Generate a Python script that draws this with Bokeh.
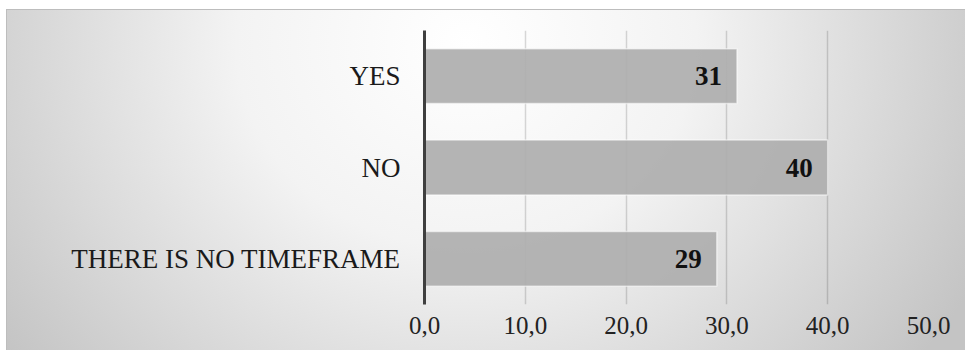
from bokeh.plotting import figure
from bokeh.models import ColumnDataSource, FactorRange, Range1d, FixedTicker
from bokeh.core.properties import value
from bokeh.embed import file_html
from bokeh.resources import INLINE

# Survey answers and their shares (percent)
categories = ["YES", "NO", "THERE IS NO TIMEFRAME"]
values = [31, 40, 29]

# Value axis ticks (comma decimal separator)
tick_values = [0, 10, 20, 30, 40, 50]
tick_labels = ["0,0", "10,0", "20,0", "30,0", "40,0", "50,0"]

FONT = "Liberation Serif"

source = ColumnDataSource(dict(cat=categories, val=values, lbl=[str(v) for v in values]))

p = figure(
    width=959, height=341,
    y_range=FactorRange(factors=categories[::-1], range_padding=0),
    x_range=Range1d(0, 50),
    output_backend="svg", toolbar_location=None,
    min_border_left=418, min_border_right=37, min_border_top=21, min_border_bottom=46,
)
p.margin = (9, 0, 0, 6)
p.background_fill_alpha = 0
p.border_fill_alpha = 0
p.outline_line_color = None
p.styles = {
    "background": "radial-gradient(ellipse 60% 150% at 48% 10%, #ffffff 0%, #f3f3f3 40%, #c4c4c4 100%)",
    "box-shadow": "inset 1px 1px 0 #bdbdbd",
}

# Bars
p.hbar(y="cat", left=0, right="val", height=0.6, source=source,
       fill_color="#aeaeae", fill_alpha=0.93,
       line_color="#ffffff", line_alpha=0.55, line_width=1.5)

# Value labels just inside the bar ends
p.text(x="val", y="cat", text="lbl", source=source,
       x_offset=-15, text_align="right", text_baseline="middle",
       text_font=value(FONT), text_font_style="bold", text_font_size="27px",
       text_color="#111111")

ticker = FixedTicker(ticks=tick_values)

# Grid
p.ygrid.grid_line_color = None
p.xgrid.ticker = ticker
p.xgrid.grid_line_color = "black"
p.xgrid.grid_line_alpha = 0.15
p.xgrid.grid_line_width = 1.5

# Value axis
p.xaxis.ticker = ticker
p.xaxis.major_label_overrides = {v: s for v, s in zip(tick_values, tick_labels)}
p.xaxis.axis_line_color = None
p.xaxis.major_tick_line_color = None
p.xaxis.minor_tick_line_color = None
p.xaxis.major_label_standoff = 6
p.xaxis.major_label_text_font = FONT
p.xaxis.major_label_text_font_size = "25px"
p.xaxis.major_label_text_color = "#222222"

# Category axis
p.yaxis.axis_line_width = 3
p.yaxis.axis_line_color = "#3f3f3f"
p.yaxis.major_tick_line_color = None
p.yaxis.minor_tick_line_color = None
p.yaxis.major_label_standoff = 18
p.yaxis.major_label_text_font = FONT
p.yaxis.major_label_text_font_size = "27px"
p.yaxis.major_label_text_color = "#1a1a1a"

open("out.html", "w").write(file_html(p, INLINE))
